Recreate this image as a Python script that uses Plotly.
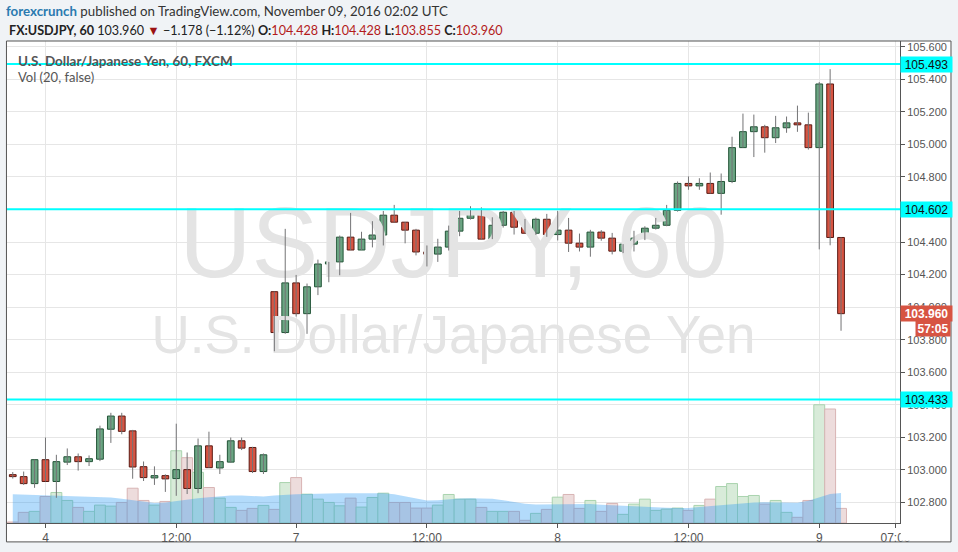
import plotly.graph_objects as go

# ---------------- data (hourly bars, Nov 3 21:00 UTC .. Nov 9 02:00 UTC) ----------------
opens = [102.971, 102.959, 102.916, 103.063, 102.929, 103.048, 103.081, 103.051, 103.066, 103.250,
         103.331, 103.240, 103.020, 102.951, 102.965, 102.947, 103.002, 102.886, 103.148, 103.012,
         103.048, 103.179, 103.138, 102.990,
         104.095, 103.844, 104.149, 103.960, 104.125, 104.265, 104.278, 104.430, 104.351, 104.418,
         104.443, 104.565, 104.522, 104.473, 104.339, 104.326, 104.369, 104.467, 104.546, 104.591,
         104.418, 104.503, 104.583, 104.491, 104.454, 104.540, 104.446, 104.473, 104.393, 104.369,
         104.461, 104.424, 104.344, 104.387, 104.424, 104.485, 104.503, 104.595, 104.760, 104.745,
         104.760, 104.699, 104.772, 104.980, 105.078, 105.108, 105.041, 105.102, 105.132, 105.120,
         104.980, 105.371, 104.428]
highs = [102.987, 102.990, 103.063, 103.199, 103.093, 103.132, 103.101, 103.089, 103.272, 103.351,
         103.351, 103.246, 103.052, 103.022, 102.973, 103.284, 103.107, 103.193, 103.235, 103.093,
         103.199, 103.199, 103.142, 103.101,
         104.095, 104.481, 104.198, 104.145, 104.292, 104.278, 104.440, 104.579, 104.463, 104.528,
         104.591, 104.628, 104.522, 104.481, 104.379, 104.420, 104.501, 104.591, 104.620, 104.613,
         104.552, 104.591, 104.591, 104.542, 104.550, 104.573, 104.591, 104.548, 104.452, 104.475,
         104.473, 104.456, 104.387, 104.469, 104.497, 104.548, 104.628, 104.772, 104.803, 104.792,
         104.827, 104.821, 105.047, 105.189, 105.183, 105.120, 105.175, 105.171, 105.238, 105.195,
         105.383, 105.462, 104.428]
lows = [102.947, 102.908, 102.890, 102.929, 102.829, 103.030, 102.996, 103.024, 103.054, 103.166,
        103.219, 102.946, 102.932, 102.908, 102.865, 102.841, 102.852, 102.857, 103.014, 102.975,
        103.045, 103.122, 102.981, 102.975,
        103.729, 103.836, 103.942, 103.836, 104.074, 104.153, 104.196, 104.351, 104.351, 104.367,
        104.379, 104.522, 104.392, 104.318, 104.250, 104.278, 104.348, 104.436, 104.538, 104.418,
        104.418, 104.489, 104.446, 104.454, 104.444, 104.432, 104.410, 104.339, 104.342, 104.310,
        104.408, 104.324, 104.332, 104.342, 104.412, 104.477, 104.497, 104.587, 104.721, 104.721,
        104.699, 104.568, 104.762, 104.980, 104.922, 104.949, 105.008, 105.071, 105.077, 104.968,
        104.355, 104.380, 103.855]
closes = [102.959, 102.916, 103.063, 102.929, 103.051, 103.081, 103.051, 103.069, 103.252, 103.331,
          103.237, 103.018, 102.953, 102.965, 102.945, 103.002, 102.886, 103.148, 103.014, 103.051,
          103.179, 103.134, 102.990, 103.093,
          103.844, 104.149, 103.960, 104.125, 104.265, 104.278, 104.430, 104.351, 104.418, 104.443,
          104.565, 104.522, 104.473, 104.339, 104.326, 104.369, 104.467, 104.546, 104.591, 104.418,
          104.503, 104.583, 104.491, 104.454, 104.540, 104.446, 104.473, 104.393, 104.369, 104.461,
          104.424, 104.344, 104.387, 104.424, 104.485, 104.503, 104.595, 104.760, 104.745, 104.760,
          104.699, 104.772, 104.980, 105.078, 105.108, 105.041, 105.102, 105.132, 105.120, 104.980,
          105.371, 104.428, 103.960]
volumes = [100, 1070, 1170, 2670, 3070, 2270, 1570, 1170, 1800, 1700,
           2070, 3500, 2270, 1800, 2170, 7270, 6570, 5100, 3570, 2500,
           1570, 1270, 1470, 1770,
           1370, 4070, 4570, 2900, 2400, 2070, 1730, 2500, 1600, 2570,
           3000, 2070, 2070, 1500, 1500, 1800, 2870, 2400, 2400, 1570,
           1170, 1170, 1170, 270, 970, 1370, 2600, 2870, 1470, 2270,
           1170, 1970, 870, 1900, 2400, 1270, 1400, 1500, 1270, 1770,
           2400, 3670, 3970, 2670, 2770, 1900, 2270, 1070, 570, 2270,
           11900, 11470, 1470]
vol_ma20 = [2900, 2870, 2830, 2800, 2770, 2730, 2700, 2670, 2630, 2570,
            2430, 2270, 2100, 2000, 2070, 2230, 2370, 2500, 2600, 2700,
            2770, 2770, 2700, 2670,
            2770, 2870, 2900, 2930, 2970, 2970, 3000, 3000, 3000, 3000,
            3000, 2900, 2670, 2430, 2270, 2300, 2400, 2470, 2500, 2500,
            2430, 2300, 2100, 1930, 1870, 1870, 1900, 1930, 1930, 1900,
            1830, 1770, 1700, 1670, 1630, 1570, 1530, 1500, 1500, 1600,
            1700, 1770, 1900, 2000, 2070, 2100, 2070, 2030, 2030, 2230,
            2570, 2930, 3030]

tick_idx = [3, 15, 26, 38, 50, 62, 74, 81]
tick_text = ["4", "12:00", "7", "12:00", "8", "12:00", "9", "07:00"]
price_ticks = [102.8, 103.0, 103.2, 103.4, 103.6, 103.8, 104.0, 104.2, 104.4,
               104.6, 104.8, 105.0, 105.2, 105.4, 105.6]
levels = [105.493, 104.602, 103.433]
last_price = 103.960
countdown = "57:05"

# ---------------- styling ----------------
UP_FILL, UP_LINE = "#6ba583", "#225437"
DN_FILL, DN_LINE = "#d75442", "#5b1a13"
WICK = "#737375"
GRID = "#e6e6e6"
AX = "#555555"
CYAN = "#00ffff"

x = list(range(len(opens)))
is_up = [c >= o for o, c in zip(opens, closes)]
x_range = [-0.53, 81.41]
y_range = [102.674, 105.635]

fig = go.Figure()

# volume bars (primary hidden axis)
fig.add_trace(go.Bar(
    x=x, y=volumes, width=1.0, yaxis="y",
    marker=dict(color=["#d8ebd9" if u else "#eddcdc" for u in is_up],
                line=dict(color=["#a9d3ae" if u else "#d8b4b4" for u in is_up], width=1)),
    hoverinfo="skip", showlegend=False))
# volume MA area
fig.add_trace(go.Scatter(
    x=x, y=vol_ma20, yaxis="y", mode="lines", line=dict(width=0, color="rgba(33,150,243,0.34)"),
    fill="tozeroy", fillcolor="rgba(33,150,243,0.34)", hoverinfo="skip", showlegend=False))

# watermark (text trace under the candles)
xc = (x_range[0] + x_range[1]) / 2
fig.add_trace(go.Scatter(
    x=[xc], y=[y_range[0] + 0.563 * (y_range[1] - y_range[0])], yaxis="y2", mode="text",
    text=["USDJPY, 60"], textposition="middle center",
    textfont=dict(size=100, color="#e4e4e4", family="Liberation Sans, Arial"),
    hoverinfo="skip", showlegend=False))
fig.add_trace(go.Scatter(
    x=[xc], y=[y_range[0] + 0.381 * (y_range[1] - y_range[0])], yaxis="y2", mode="text",
    text=["U.S. Dollar/Japanese Yen"], textposition="middle center",
    textfont=dict(size=53, color="#e4e4e4", family="Liberation Sans, Arial"),
    hoverinfo="skip", showlegend=False))

# wicks
wx, wy = [], []
for i, (h, l) in enumerate(zip(highs, lows)):
    wx += [i, i, None]
    wy += [l, h, None]
fig.add_trace(go.Scatter(x=wx, y=wy, yaxis="y2", mode="lines",
                         line=dict(color=WICK, width=1), hoverinfo="skip", showlegend=False))
# bodies
base = [min(o, c) for o, c in zip(opens, closes)]
height = [max(abs(c - o), 0.004) for o, c in zip(opens, closes)]
fig.add_trace(go.Bar(
    x=x, y=height, base=base, width=0.62, yaxis="y2",
    marker=dict(color=[UP_FILL if u else DN_FILL for u in is_up],
                line=dict(color=[UP_LINE if u else DN_LINE for u in is_up], width=1)),
    hoverinfo="skip", showlegend=False))

shapes = []
# outer white panel
shapes.append(dict(type="rect", xref="paper", yref="paper", x0=-0.0006, x1=1.0571, y0=-0.0392, y1=1.0,
                   fillcolor="white", line=dict(width=0), layer="below"))
# horizontal levels
for lv in levels:
    shapes.append(dict(type="line", xref="paper", yref="y2", x0=0, x1=1, y0=lv, y1=lv,
                       line=dict(color=CYAN, width=2), layer="above"))
# hide overflow of last time label
shapes.append(dict(type="rect", xref="paper", yref="paper", x0=1.0008, x1=1.0555, y0=-0.037, y1=-0.0022,
                   fillcolor="white", line=dict(width=0), layer="above"))
# frame
shapes.append(dict(type="rect", xref="paper", yref="paper", x0=-0.0006, x1=1.0571, y0=-0.0392, y1=1.0,
                   fillcolor="rgba(0,0,0,0)", line=dict(color=AX, width=1), layer="above"))

ann = []
for lv in levels:
    ann.append(dict(xref="paper", yref="y2", x=1.0, y=lv, xanchor="left", yanchor="middle",
                    text=f"{lv:.3f}", showarrow=False, bgcolor=CYAN, width=49, height=13, borderpad=1,
                    font=dict(size=12, color="#111", family="Liberation Sans, Arial")))
ann.append(dict(xref="paper", yref="y2", x=1.0, y=last_price, xanchor="left", yanchor="middle",
                text=f"<b>{last_price:.3f}</b>", showarrow=False, bgcolor=DN_FILL, width=49, height=13,
                borderpad=1, font=dict(size=12, color="white", family="Liberation Sans, Arial")))
ann.append(dict(xref="paper", yref="y2", x=1.0571, y=last_price, yshift=-15, xanchor="right",
                yanchor="middle", text=f"<b>{countdown}</b>", showarrow=False, bgcolor=DN_FILL,
                width=32, height=13, borderpad=1,
                font=dict(size=12, color="white", family="Liberation Sans, Arial")))

HF = "Lato, Open Sans, sans-serif"
RED = "#b31b1b"
ann.append(dict(xref="paper", yref="paper", x=-0.0034, y=1.0619, xanchor="left", yanchor="middle",
                showarrow=False,
                text="<span style='color:#2a7ab0'><b>forexcrunch</b></span> published on TradingView.com, "
                     "November 09, 2016 02:02 UTC",
                font=dict(size=13.3, color="#333", family=HF)))
ann.append(dict(xref="paper", yref="paper", x=-0.0003, y=1.0227, xanchor="left", yanchor="middle",
                showarrow=False,
                text=("<b>FX:USDJPY, 60</b> 103.960 <span style='color:#9b1212'>▼</span> "
                      "−1.178 (−1.12%) "
                      f"<b>O:</b><span style='color:{RED}'>104.428</span> "
                      f"<b>H:</b><span style='color:{RED}'>104.428</span> "
                      f"<b>L:</b><span style='color:{RED}'>103.855</span> "
                      f"<b>C:</b><span style='color:{RED}'>103.960</span>"),
                font=dict(size=12.6, color="#222", family=HF)))
ann.append(dict(xref="paper", yref="paper", x=0.0097, y=0.9588, xanchor="left", yanchor="middle",
                showarrow=False, text="<b>U.S. Dollar/Japanese Yen, 60, FXCM</b>",
                font=dict(size=13.5, color="#555", family=HF)))
ann.append(dict(xref="paper", yref="paper", x=0.0097, y=0.9258, xanchor="left", yanchor="middle",
                showarrow=False, text="Vol (20, false)",
                font=dict(size=13, color="#555", family=HF)))

fig.update_layout(
    width=958, height=552,
    margin=dict(l=7, r=58, t=41, b=26),
    paper_bgcolor="#f0f3f6", plot_bgcolor="white",
    barmode="overlay", showlegend=False, hovermode=False,
    font=dict(family="Liberation Sans, Arial", color=AX),
    xaxis=dict(range=x_range, tickmode="array", tickvals=tick_idx, ticktext=tick_text,
               showgrid=True, gridcolor=GRID, gridwidth=1, zeroline=False,
               showline=True, linecolor=AX, linewidth=1, ticks="outside", ticklen=4, tickcolor=AX,
               tickfont=dict(size=12, color=AX), fixedrange=True),
    yaxis=dict(range=[0, 48500], visible=False, showgrid=False, fixedrange=True),
    yaxis2=dict(range=y_range, overlaying="y", side="right", anchor="x",
                tickmode="array", tickvals=price_ticks, tickformat=".3f",
                showgrid=True, gridcolor=GRID, gridwidth=1, zeroline=False,
                showline=True, linecolor=AX, linewidth=1, ticks="outside", ticklen=4, tickcolor=AX,
                tickfont=dict(size=11, color=AX), fixedrange=True),
    shapes=shapes, annotations=ann,
)

fig.write_html("out.html", config={"displayModeBar": False},
               post_script="document.body.style.margin='0';")
